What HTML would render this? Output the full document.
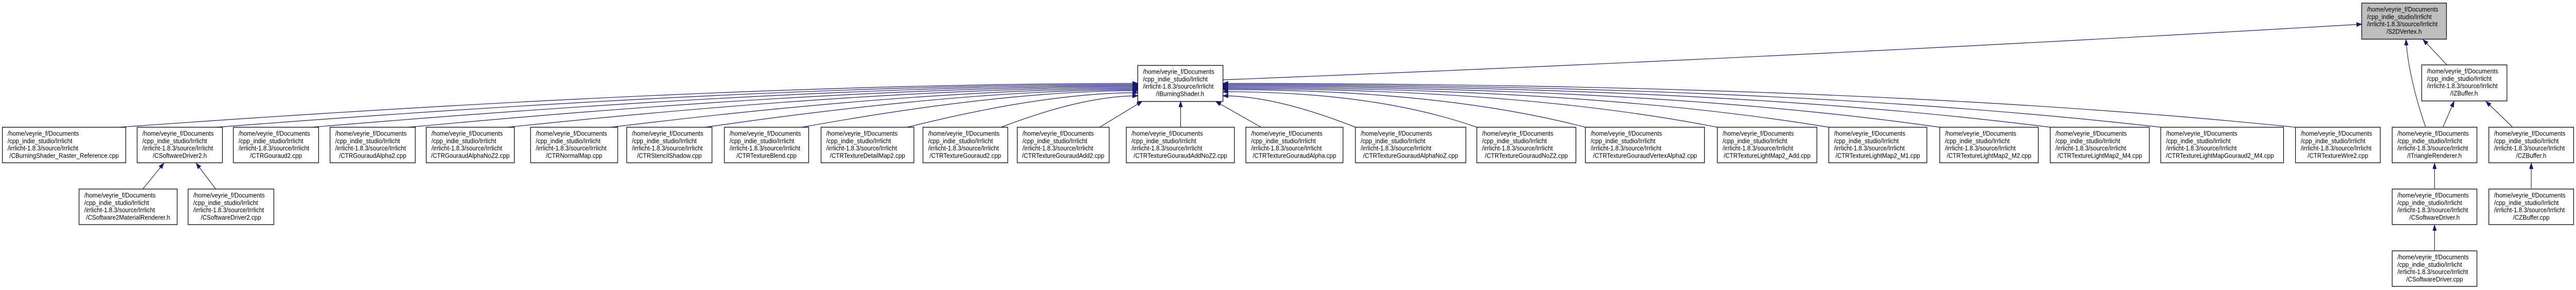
<!DOCTYPE html>
<html><head><meta charset="utf-8">
<style>
html,body{margin:0;padding:0;background:#fff;width:100%;height:100%;overflow:hidden;}
svg{display:block;width:100vw;height:100vh;}
text{font-family:"Liberation Sans",sans-serif;font-size:12.6px;fill:#000;}
.b{fill:#fff;stroke:#000;stroke-width:1.3;}
.g{fill:#bfbfbf;stroke:#000;stroke-width:1.3;}
.e{fill:none;stroke:#191970;stroke-width:1.2;marker-end:url(#a);}
</style></head><body>
<svg viewBox="0 0 5409 563" preserveAspectRatio="none" xmlns="http://www.w3.org/2000/svg">
<defs><marker id="a" markerUnits="userSpaceOnUse" markerWidth="12" markerHeight="9" refX="11" refY="4" orient="auto"><path d="M0,0 L11,4 L0,8 z" fill="#191970" stroke="#191970"/></marker></defs>

<path class="e" d="M2568,155 Q3800,110 4959,47"/>
<path class="e" d="M250,247 Q1533,162 2389,162"/>
<path class="e" d="M455,247 Q1615,164 2389,164"/>
<path class="e" d="M655,247 Q1695,166 2389,166"/>
<path class="e" d="M858,247 Q1777,168 2389,168"/>
<path class="e" d="M1066,247 Q1860,170 2389,170"/>
<path class="e" d="M1283,247 Q1947,172 2389,172"/>
<path class="e" d="M1481,247 Q2026,174 2389,174"/>
<path class="e" d="M1684,247 Q2107,176 2389,176"/>
<path class="e" d="M1905,247 Q2195,180 2389,180"/>
<path class="e" d="M2102,247 Q2274,186 2389,186"/>
<path class="e" d="M2309,247 L2398,197"/>
<path class="e" d="M2479,247 L2479,197"/>
<path class="e" d="M2648,247 L2553,197"/>
<path class="e" d="M2846,247 Q2679,186 2568,186"/>
<path class="e" d="M3101,247 Q2888,178 2568,178"/>
<path class="e" d="M3329,247 Q3025,174 2568,174"/>
<path class="e" d="M3606,247 Q3191,172 2568,172"/>
<path class="e" d="M3840,247 Q3331,170 2568,170"/>
<path class="e" d="M4073,247 Q3471,168 2568,168"/>
<path class="e" d="M4305,247 Q3610,166 2568,166"/>
<path class="e" d="M4537,247 Q3749,164 2568,164"/>
<path class="e" d="M4820,247 Q3919,162 2568,162"/>
<path class="e" d="M5093,246 C5068,180 5055,120 5052,77"/>
<path class="e" d="M5130,246 L5153,197"/>
<path class="e" d="M5138,126 L5088,77"/>
<path class="e" d="M5275,246 L5220,197"/>
<path class="e" d="M5112,366 L5112,317"/>
<path class="e" d="M5112,486 L5112,437"/>
<path class="e" d="M5315,366 L5315,317"/>
<path class="e" d="M300,367 L344,317"/>
<path class="e" d="M453,367 L412,317"/>

<g>
<rect class="g" x="4959" y="6" width="178" height="70"/>
<text x="4970" y="22.5">/home/veyrie_f/Documents</text><text x="4970" y="36.8">/cpp_indie_studio/Irrlicht</text><text x="4970" y="51.2">/irrlicht-1.8.3/source/Irrlicht</text><text x="5048" y="65.5" text-anchor="middle">/S2DVertex.h</text>
</g>
<g>
<rect class="b" x="2389" y="127" width="179" height="70"/>
<text x="2400" y="143.5">/home/veyrie_f/Documents</text><text x="2400" y="157.8">/cpp_indie_studio/Irrlicht</text><text x="2400" y="172.2">/irrlicht-1.8.3/source/Irrlicht</text><text x="2478" y="186.5" text-anchor="middle">/IBurningShader.h</text>
</g>
<g>
<rect class="b" x="5085" y="126" width="179" height="70"/>
<text x="5096" y="142.5">/home/veyrie_f/Documents</text><text x="5096" y="156.8">/cpp_indie_studio/Irrlicht</text><text x="5096" y="171.2">/irrlicht-1.8.3/source/Irrlicht</text><text x="5174" y="185.5" text-anchor="middle">/IZBuffer.h</text>
</g>

<g>
<rect class="b" x="5" y="247" width="259" height="69"/>
<text x="16" y="263.5">/home/veyrie_f/Documents</text><text x="16" y="277.8">/cpp_indie_studio/Irrlicht</text><text x="16" y="292.2">/irrlicht-1.8.3/source/Irrlicht</text><text x="134.5" y="306.5" text-anchor="middle">/CBurningShader_Raster_Reference.cpp</text>
</g>
<g>
<rect class="b" x="288" y="247" width="179" height="69"/>
<text x="299" y="263.5">/home/veyrie_f/Documents</text><text x="299" y="277.8">/cpp_indie_studio/Irrlicht</text><text x="299" y="292.2">/irrlicht-1.8.3/source/Irrlicht</text><text x="377.5" y="306.5" text-anchor="middle">/CSoftwareDriver2.h</text>
</g>
<g>
<rect class="b" x="490" y="247" width="179" height="69"/>
<text x="501" y="263.5">/home/veyrie_f/Documents</text><text x="501" y="277.8">/cpp_indie_studio/Irrlicht</text><text x="501" y="292.2">/irrlicht-1.8.3/source/Irrlicht</text><text x="579.5" y="306.5" text-anchor="middle">/CTRGouraud2.cpp</text>
</g>
<g>
<rect class="b" x="693" y="247" width="179" height="69"/>
<text x="704" y="263.5">/home/veyrie_f/Documents</text><text x="704" y="277.8">/cpp_indie_studio/Irrlicht</text><text x="704" y="292.2">/irrlicht-1.8.3/source/Irrlicht</text><text x="782.5" y="306.5" text-anchor="middle">/CTRGouraudAlpha2.cpp</text>
</g>
<g>
<rect class="b" x="895" y="247" width="185" height="69"/>
<text x="906" y="263.5">/home/veyrie_f/Documents</text><text x="906" y="277.8">/cpp_indie_studio/Irrlicht</text><text x="906" y="292.2">/irrlicht-1.8.3/source/Irrlicht</text><text x="987.5" y="306.5" text-anchor="middle">/CTRGouraudAlphaNoZ2.cpp</text>
</g>
<g>
<rect class="b" x="1114" y="247" width="183" height="69"/>
<text x="1125" y="263.5">/home/veyrie_f/Documents</text><text x="1125" y="277.8">/cpp_indie_studio/Irrlicht</text><text x="1125" y="292.2">/irrlicht-1.8.3/source/Irrlicht</text><text x="1205.5" y="306.5" text-anchor="middle">/CTRNormalMap.cpp</text>
</g>
<g>
<rect class="b" x="1316" y="247" width="179" height="69"/>
<text x="1327" y="263.5">/home/veyrie_f/Documents</text><text x="1327" y="277.8">/cpp_indie_studio/Irrlicht</text><text x="1327" y="292.2">/irrlicht-1.8.3/source/Irrlicht</text><text x="1405.5" y="306.5" text-anchor="middle">/CTRStencilShadow.cpp</text>
</g>
<g>
<rect class="b" x="1521" y="247" width="177" height="69"/>
<text x="1532" y="263.5">/home/veyrie_f/Documents</text><text x="1532" y="277.8">/cpp_indie_studio/Irrlicht</text><text x="1532" y="292.2">/irrlicht-1.8.3/source/Irrlicht</text><text x="1609.5" y="306.5" text-anchor="middle">/CTRTextureBlend.cpp</text>
</g>
<g>
<rect class="b" x="1724" y="247" width="195" height="69"/>
<text x="1735" y="263.5">/home/veyrie_f/Documents</text><text x="1735" y="277.8">/cpp_indie_studio/Irrlicht</text><text x="1735" y="292.2">/irrlicht-1.8.3/source/Irrlicht</text><text x="1821.5" y="306.5" text-anchor="middle">/CTRTextureDetailMap2.cpp</text>
</g>
<g>
<rect class="b" x="1938" y="247" width="178" height="69"/>
<text x="1949" y="263.5">/home/veyrie_f/Documents</text><text x="1949" y="277.8">/cpp_indie_studio/Irrlicht</text><text x="1949" y="292.2">/irrlicht-1.8.3/source/Irrlicht</text><text x="2027" y="306.5" text-anchor="middle">/CTRTextureGouraud2.cpp</text>
</g>
<g>
<rect class="b" x="2136" y="247" width="193" height="69"/>
<text x="2147" y="263.5">/home/veyrie_f/Documents</text><text x="2147" y="277.8">/cpp_indie_studio/Irrlicht</text><text x="2147" y="292.2">/irrlicht-1.8.3/source/Irrlicht</text><text x="2232.5" y="306.5" text-anchor="middle">/CTRTextureGouraudAdd2.cpp</text>
</g>
<g>
<rect class="b" x="2365" y="247" width="227" height="69"/>
<text x="2376" y="263.5">/home/veyrie_f/Documents</text><text x="2376" y="277.8">/cpp_indie_studio/Irrlicht</text><text x="2376" y="292.2">/irrlicht-1.8.3/source/Irrlicht</text><text x="2478.5" y="306.5" text-anchor="middle">/CTRTextureGouraudAddNoZ2.cpp</text>
</g>
<g>
<rect class="b" x="2616" y="247" width="204" height="69"/>
<text x="2627" y="263.5">/home/veyrie_f/Documents</text><text x="2627" y="277.8">/cpp_indie_studio/Irrlicht</text><text x="2627" y="292.2">/irrlicht-1.8.3/source/Irrlicht</text><text x="2718" y="306.5" text-anchor="middle">/CTRTextureGouraudAlpha.cpp</text>
</g>
<g>
<rect class="b" x="2846" y="247" width="232" height="69"/>
<text x="2857" y="263.5">/home/veyrie_f/Documents</text><text x="2857" y="277.8">/cpp_indie_studio/Irrlicht</text><text x="2857" y="292.2">/irrlicht-1.8.3/source/Irrlicht</text><text x="2962" y="306.5" text-anchor="middle">/CTRTextureGouraudAlphaNoZ.cpp</text>
</g>
<g>
<rect class="b" x="3101" y="247" width="208" height="69"/>
<text x="3112" y="263.5">/home/veyrie_f/Documents</text><text x="3112" y="277.8">/cpp_indie_studio/Irrlicht</text><text x="3112" y="292.2">/irrlicht-1.8.3/source/Irrlicht</text><text x="3205" y="306.5" text-anchor="middle">/CTRTextureGouraudNoZ2.cpp</text>
</g>
<g>
<rect class="b" x="3329" y="247" width="250" height="69"/>
<text x="3340" y="263.5">/home/veyrie_f/Documents</text><text x="3340" y="277.8">/cpp_indie_studio/Irrlicht</text><text x="3340" y="292.2">/irrlicht-1.8.3/source/Irrlicht</text><text x="3454" y="306.5" text-anchor="middle">/CTRTextureGouraudVertexAlpha2.cpp</text>
</g>
<g>
<rect class="b" x="3606" y="247" width="209" height="69"/>
<text x="3617" y="263.5">/home/veyrie_f/Documents</text><text x="3617" y="277.8">/cpp_indie_studio/Irrlicht</text><text x="3617" y="292.2">/irrlicht-1.8.3/source/Irrlicht</text><text x="3710.5" y="306.5" text-anchor="middle">/CTRTextureLightMap2_Add.cpp</text>
</g>
<g>
<rect class="b" x="3840" y="247" width="206" height="69"/>
<text x="3851" y="263.5">/home/veyrie_f/Documents</text><text x="3851" y="277.8">/cpp_indie_studio/Irrlicht</text><text x="3851" y="292.2">/irrlicht-1.8.3/source/Irrlicht</text><text x="3943" y="306.5" text-anchor="middle">/CTRTextureLightMap2_M1.cpp</text>
</g>
<g>
<rect class="b" x="4073" y="247" width="207" height="69"/>
<text x="4084" y="263.5">/home/veyrie_f/Documents</text><text x="4084" y="277.8">/cpp_indie_studio/Irrlicht</text><text x="4084" y="292.2">/irrlicht-1.8.3/source/Irrlicht</text><text x="4176.5" y="306.5" text-anchor="middle">/CTRTextureLightMap2_M2.cpp</text>
</g>
<g>
<rect class="b" x="4305" y="247" width="208" height="69"/>
<text x="4316" y="263.5">/home/veyrie_f/Documents</text><text x="4316" y="277.8">/cpp_indie_studio/Irrlicht</text><text x="4316" y="292.2">/irrlicht-1.8.3/source/Irrlicht</text><text x="4409" y="306.5" text-anchor="middle">/CTRTextureLightMap2_M4.cpp</text>
</g>
<g>
<rect class="b" x="4537" y="247" width="258" height="69"/>
<text x="4548" y="263.5">/home/veyrie_f/Documents</text><text x="4548" y="277.8">/cpp_indie_studio/Irrlicht</text><text x="4548" y="292.2">/irrlicht-1.8.3/source/Irrlicht</text><text x="4548" y="306.5">/CTRTextureLightMapGouraud2_M4.cpp</text>
</g>
<g>
<rect class="b" x="4820" y="247" width="178" height="69"/>
<text x="4831" y="263.5">/home/veyrie_f/Documents</text><text x="4831" y="277.8">/cpp_indie_studio/Irrlicht</text><text x="4831" y="292.2">/irrlicht-1.8.3/source/Irrlicht</text><text x="4909" y="306.5" text-anchor="middle">/CTRTextureWire2.cpp</text>
</g>
<g>
<rect class="b" x="5023" y="247" width="178" height="69"/>
<text x="5034" y="263.5">/home/veyrie_f/Documents</text><text x="5034" y="277.8">/cpp_indie_studio/Irrlicht</text><text x="5034" y="292.2">/irrlicht-1.8.3/source/Irrlicht</text><text x="5112" y="306.5" text-anchor="middle">/ITriangleRenderer.h</text>
</g>
<g>
<rect class="b" x="5226" y="247" width="178" height="69"/>
<text x="5237" y="263.5">/home/veyrie_f/Documents</text><text x="5237" y="277.8">/cpp_indie_studio/Irrlicht</text><text x="5237" y="292.2">/irrlicht-1.8.3/source/Irrlicht</text><text x="5315" y="306.5" text-anchor="middle">/CZBuffer.h</text>
</g>

<g>
<rect class="b" x="166" y="367" width="206" height="69"/>
<text x="177" y="383.5">/home/veyrie_f/Documents</text><text x="177" y="397.8">/cpp_indie_studio/Irrlicht</text><text x="177" y="412.2">/irrlicht-1.8.3/source/Irrlicht</text><text x="269" y="426.5" text-anchor="middle">/CSoftware2MaterialRenderer.h</text>
</g>
<g>
<rect class="b" x="395" y="367" width="180" height="69"/>
<text x="406" y="383.5">/home/veyrie_f/Documents</text><text x="406" y="397.8">/cpp_indie_studio/Irrlicht</text><text x="406" y="412.2">/irrlicht-1.8.3/source/Irrlicht</text><text x="485" y="426.5" text-anchor="middle">/CSoftwareDriver2.cpp</text>
</g>
<g>
<rect class="b" x="5023" y="367" width="178" height="69"/>
<text x="5034" y="383.5">/home/veyrie_f/Documents</text><text x="5034" y="397.8">/cpp_indie_studio/Irrlicht</text><text x="5034" y="412.2">/irrlicht-1.8.3/source/Irrlicht</text><text x="5112" y="426.5" text-anchor="middle">/CSoftwareDriver.h</text>
</g>
<g>
<rect class="b" x="5226" y="367" width="178" height="69"/>
<text x="5237" y="383.5">/home/veyrie_f/Documents</text><text x="5237" y="397.8">/cpp_indie_studio/Irrlicht</text><text x="5237" y="412.2">/irrlicht-1.8.3/source/Irrlicht</text><text x="5315" y="426.5" text-anchor="middle">/CZBuffer.cpp</text>
</g>

<g>
<rect class="b" x="5023" y="487" width="178" height="69"/>
<text x="5034" y="503.5">/home/veyrie_f/Documents</text><text x="5034" y="517.8">/cpp_indie_studio/Irrlicht</text><text x="5034" y="532.2">/irrlicht-1.8.3/source/Irrlicht</text><text x="5112" y="546.5" text-anchor="middle">/CSoftwareDriver.cpp</text>
</g>
</svg>
</body></html>
